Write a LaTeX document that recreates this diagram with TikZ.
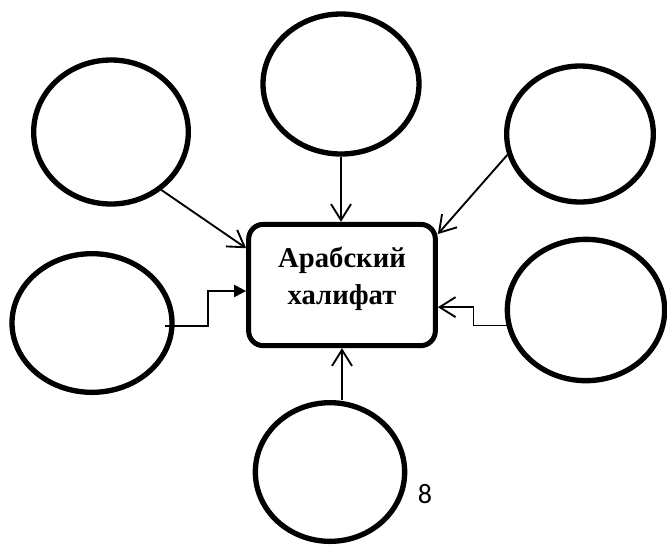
\documentclass[tikz,border=0pt]{standalone}
\usepackage{fontspec}
\setmainfont{Liberation Serif}
\newfontfamily\pagefont{Carlito}
\usetikzlibrary{calc}
\usetikzlibrary{arrows.meta}
\usetikzlibrary{shapes.geometric}

\begin{document}
\begin{tikzpicture}[x=0.75pt,y=-0.75pt,
  blank/.style={ellipse, draw, line width=4pt, inner sep=0pt},
  caliphbox/.style={rectangle, draw, rounded corners=11pt, line width=3.75pt, minimum width=140pt, minimum height=91pt},
  title/.style={align=center, font=\bfseries\fontsize{21.5}{27.5}\selectfont},
  link/.style={line width=1.4pt, ->, >={Straight Barb[length=12pt,width=15pt]}},
  filledlink/.style={line width=1.4pt, ->, >={Triangle[length=9pt,width=9pt]}}]
\useasboundingbox (0,0) rectangle (667,544);
\node[caliphbox] (caliph) at (342,285) {};
\node[title] (name) at (342,279) {Арабский\\халифат};
\node[blank, minimum width=116pt, minimum height=108pt] (tl) at (111,132) {};
\node[blank, minimum width=117pt, minimum height=105pt] (tm) at (341,84) {};
\node[blank, minimum width=110pt, minimum height=102pt] (tr) at (580,134) {};
\node[blank, minimum width=120pt, minimum height=104pt] (ml) at (92,323) {};
\node[blank, minimum width=118pt, minimum height=106pt] (mr) at (586,310) {};
\node[blank, minimum width=112pt, minimum height=104pt] (bot) at (330,472) {};
\node[font=\pagefont\fontsize{21}{25}\selectfont] (pagenum) at (425,494) {8};
\draw[link] (tm.south) -- (tm.south |- caliph.north);
\draw[link] (tl.-49) -- (caliph.159);
\draw[link] (tr.196) -- (caliph.28);
\draw[link] (mr.191) -- ++(-33,0) |- (caliph.-13);
\draw[filledlink] ($(ml.east)+(-10,3)$) -- ++(43,0) |- ($(caliph.west)+(0,6)$);
\draw[link] (caliph.south |- bot.north) -- (caliph.south);
\end{tikzpicture}
\end{document}
